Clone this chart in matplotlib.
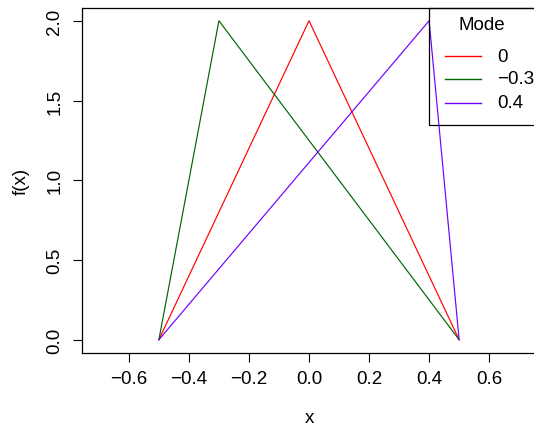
import matplotlib
matplotlib.use("Agg")
import matplotlib.pyplot as plt
from matplotlib.lines import Line2D
from matplotlib.patches import Rectangle

# Data: triangular densities on [-0.5, 0.5]
modes = [0.0, -0.3, 0.4]
mode_labels = ["0", "\u22120.3", "0.4"]
lower, upper = -0.5, 0.5
peak_density = [2.0, 2.0, 2.0]
colors = ["#FF0000", "#006400", "#7000FF"]

xticks = [-0.6, -0.4, -0.2, 0.0, 0.2, 0.4, 0.6]
xtick_labels = ["\u22120.6", "\u22120.4", "\u22120.2", "0.0", "0.2", "0.4", "0.6"]
yticks = [0.0, 0.5, 1.0, 1.5, 2.0]
ytick_labels = ["0.0", "0.5", "1.0", "1.5", "2.0"]

plt.rcParams['font.family'] = ['Liberation Sans', 'DejaVu Sans']

W, H = 534, 427
fig = plt.figure(figsize=(W / 100, H / 100), dpi=100)
fig.patch.set_facecolor("white")

ax = fig.add_axes([82 / W, 1 - 353.5 / H, (536 - 82) / W, (353.5 - 9) / H])

for m, pk, c in zip(modes, peak_density, colors):
    ax.plot([lower, m, upper], [0.0, pk, 0.0], color=c, lw=0.85)

ax.set_xlim(-0.756, 0.756)
ax.set_ylim(-0.08, 2.08)
ax.set_xticks(xticks)
ax.set_xticklabels(xtick_labels)
ax.set_yticks(yticks)
ax.set_yticklabels(ytick_labels, rotation=90, va="center")
ax.tick_params(direction="out", length=6.5, width=0.8, labelsize=13.5, pad=7)
ax.tick_params(axis="x", pad=6)
for s in ax.spines.values():
    s.set_linewidth(0.9)
ax.set_xlabel("x", fontsize=13.5, labelpad=16)
ax.set_ylabel("f(x)", fontsize=13.5, labelpad=12)

# legend box drawn in figure pixel coordinates (R-style legend)
def fx(px):
    return px / W

def fy(py):
    return 1 - py / H

fig.add_artist(Rectangle((fx(429), fy(126)), fx(570) - fx(429), fy(9) - fy(126),
                         transform=fig.transFigure, fill=False, edgecolor="black",
                         linewidth=0.9, zorder=5))
fig.text(fx(458), fy(26), "Mode", fontsize=13.5, ha="left", va="center", zorder=6)
row_y = [57, 80, 104]
for lab, c, ry in zip(mode_labels, colors, row_y):
    fig.add_artist(Line2D([fx(445), fx(481)], [fy(ry), fy(ry)], color=c, lw=1.0,
                          transform=fig.transFigure, zorder=6))
    fig.text(fx(497), fy(ry), lab, fontsize=13.5, ha="left", va="center", zorder=6)

fig.savefig("out.png", dpi=100)
